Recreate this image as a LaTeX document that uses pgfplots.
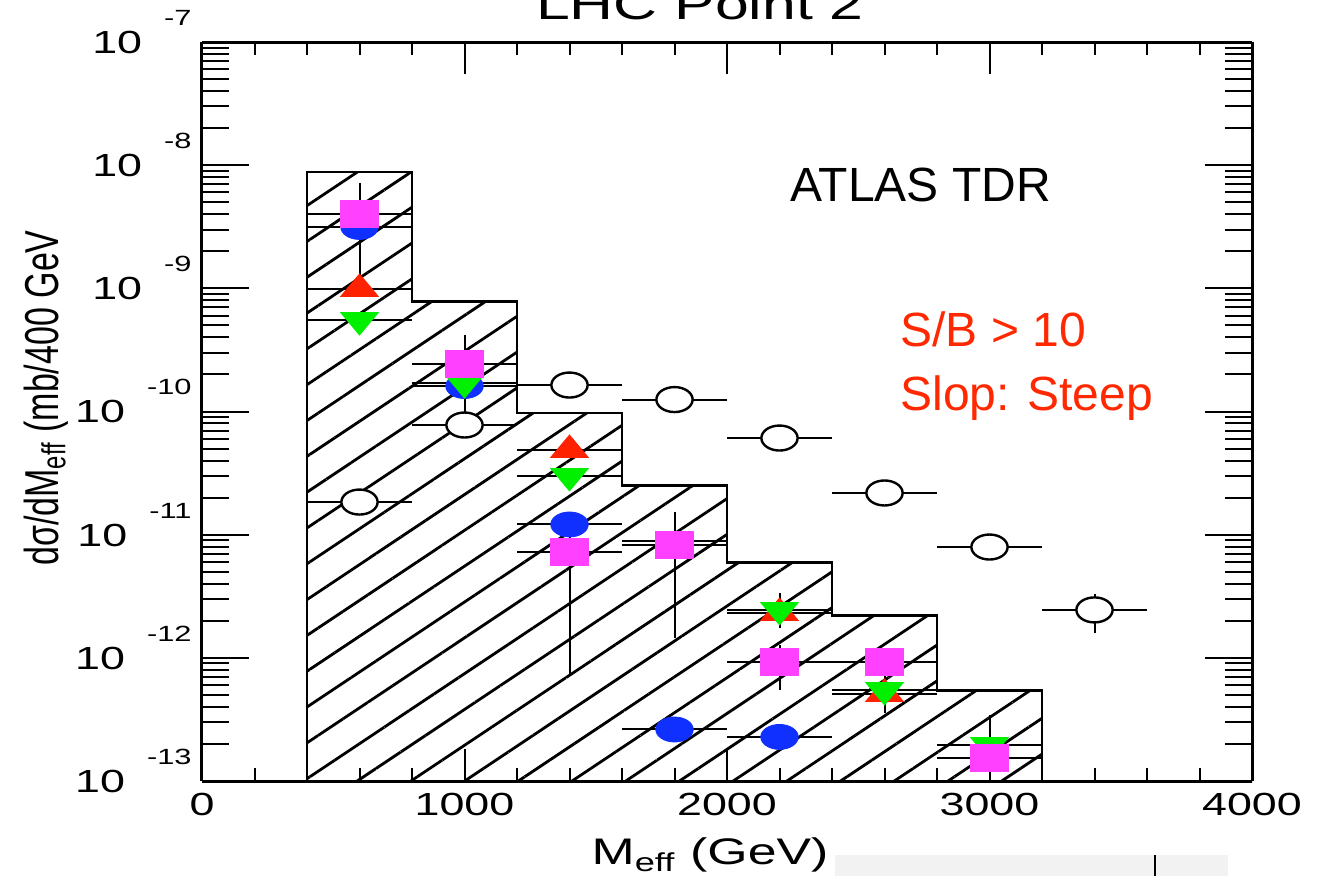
\documentclass[border=0pt]{standalone}
\usepackage{pgfplots}
\pgfplotsset{compat=1.18}
\usepackage{pgfplotstable}
\usepackage{graphicx}
\usepackage{fontspec}
\setmainfont{Liberation Sans}
\usetikzlibrary{patterns.meta}
\definecolor{mymag}{RGB}{255,64,255}
\definecolor{myblue}{RGB}{16,48,255}
\definecolor{myred}{RGB}{255,34,0}
\definecolor{mygreen}{RGB}{0,240,0}
\definecolor{txtred}{RGB}{255,40,0}

\pgfplotstableread{
x y ex eyp eym
600 4.05e-9 200 3.1e-9 3.05e-9
1000 2.43e-10 200 1.75e-10 1.72e-10
1400 7.24e-12 200 7.7e-12 6.5e-12
1800 8.24e-12 200 7.1e-12 6.8e-12
2200 9.25e-13 200 3.5e-13 3.8e-13
2600 9.25e-13 200 2.0e-13 2.0e-13
3000 1.55e-13 200 1.9e-13 1.5e-13
}\magdata
\pgfplotstableread{
x y ex eyp eym
600 3.15e-9 200 0 0
1000 1.61e-10 200 0 0
1400 1.21e-11 200 0 0
1800 2.62e-13 200 0.4e-13 0.4e-13
2200 2.28e-13 200 0 0
}\bluedata
\pgfplotstableread{
x y ex eyp eym
600 9.88e-10 200 0 0
1400 4.87e-11 200 0 0
2200 2.31e-12 200 0 0
2600 5.09e-13 200 0 0
}\reddata
\pgfplotstableread{
x y ex eyp eym
600 5.53e-10 200 0 0
1000 1.70e-10 200 0 0
1400 3.00e-11 200 0 0
1800 8.89e-12 200 0 0
2200 2.45e-12 200 0.9e-12 0.7e-12
2600 5.48e-13 200 1.9e-13 1.9e-13
3000 1.96e-13 200 0 0
}\greendata
\pgfplotstableread{
x y ex eyp eym
600 1.84e-11 200 0 0
1000 7.77e-11 200 0 0
1400 1.64e-10 200 0 0
1800 1.25e-10 200 0 0
2200 6.09e-11 200 0 0
2600 2.18e-11 200 0 0
3000 7.94e-12 200 0 0
3400 2.45e-12 200 0.86e-12 0.86e-12
}\opendata

\newcommand{\ylab}[1]{\scalebox{1.4}[1]{\fontsize{16}{16}\selectfont 10\hspace{7.9pt}\raisebox{14pt}{\fontsize{11}{11}\selectfont #1}}}
\newcommand{\xl}[1]{\scalebox{1.4}[1]{#1}}

\begin{document}
\begin{tikzpicture}
\useasboundingbox (0,0) rectangle (662pt,438pt);
\fill[black!5] (417.5pt,0) rectangle (614pt,10.5pt);
\draw[line width=1pt] (577.5pt,0) -- (577.5pt,10.5pt);

\begin{axis}[
  at={(101pt,47.5pt)}, anchor=south west, scale only axis,
  width=525pt, height=369.5pt,
  xmin=0, xmax=4000, ymode=log, ymin=1e-13, ymax=1e-7,
  axis line style={line width=1.5pt, black},
  tick align=inside,
  tick style={black, line width=1pt},
  hide y axis,
  xtick pos=both,
  xtick={0,1000,2000,3000,4000},
  xticklabels={\xl{0},\xl{1000},\xl{2000},\xl{3000},\xl{4000}},
  minor x tick num=4,
  major tick length=16pt, minor tick length=6.5pt,
  xticklabel style={font=\fontsize{16}{16}\selectfont, inner sep=0pt, anchor=north, yshift=-6pt},
]
% blue circles
\addplot[only marks, mark=none, error bars/x dir=both, error bars/x explicit, error bars/y dir=both, error bars/y explicit, error bars/error mark=none, error bars/error bar style={black, line width=1pt}]
  table[x=x,y=y,x error=ex,y error plus=eyp,y error minus=eym] {\bluedata};
\addplot[only marks, mark=*, mark size=6.25pt, mark options={xscale=1.5, fill=myblue, draw=myblue}] table[x=x,y=y] {\bluedata};
% red up triangles
\addplot[only marks, mark=none, error bars/x dir=both, error bars/x explicit, error bars/y dir=both, error bars/y explicit, error bars/error mark=none, error bars/error bar style={black, line width=1pt}]
  table[x=x,y=y,x error=ex,y error plus=eyp,y error minus=eym] {\reddata};
\addplot[only marks, mark=triangle*, mark size=7.5pt, mark options={xscale=1.45, fill=myred, draw=myred}] table[x=x,y=y] {\reddata};
% green down triangles
\addplot[only marks, mark=none, error bars/x dir=both, error bars/x explicit, error bars/y dir=both, error bars/y explicit, error bars/error mark=none, error bars/error bar style={black, line width=1pt}]
  table[x=x,y=y,x error=ex,y error plus=eyp,y error minus=eym] {\greendata};
\addplot[only marks, mark=triangle*, mark size=7.5pt, mark options={rotate=180, xscale=1.45, fill=mygreen, draw=mygreen}] table[x=x,y=y] {\greendata};
% magenta squares
\addplot[only marks, mark=none, error bars/x dir=both, error bars/x explicit, error bars/y dir=both, error bars/y explicit, error bars/error mark=none, error bars/error bar style={black, line width=1pt}]
  table[x=x,y=y,x error=ex,y error plus=eyp,y error minus=eym] {\magdata};
\addplot[only marks, mark=square*, mark size=6.75pt, mark options={xscale=1.4, fill=mymag, draw=mymag}] table[x=x,y=y] {\magdata};
% hatched histogram
\addplot[const plot, mark=none, black, line width=1.3pt,
  pattern={Lines[angle=33.7, distance=14.9pt, line width=1.4pt]}, pattern color=black]
  coordinates {(400,1e-13) (400,8.80e-9) (800,7.79e-10) (1200,9.76e-11) (1600,2.507e-11)
  (2000,5.94e-12) (2400,2.20e-12) (2800,5.41e-13) (3200,1e-13) (3600,1e-13)} -- cycle;
% open circles
\addplot[only marks, mark=none, error bars/x dir=both, error bars/x explicit, error bars/y dir=both, error bars/y explicit, error bars/error mark=none, error bars/error bar style={black, line width=1pt}]
  table[x=x,y=y,x error=ex,y error plus=eyp,y error minus=eym] {\opendata};
\addplot[only marks, mark=*, mark size=6.25pt, mark options={xscale=1.45, fill=white, draw=black, line width=1.2pt}] table[x=x,y=y] {\opendata};
\end{axis}

\begin{axis}[
  at={(101pt,47.5pt)}, anchor=south west, scale only axis,
  width=525pt, height=369.5pt,
  xmin=0, xmax=4000, ymode=log, ymin=1e-13, ymax=1e-7,
  axis line style={line width=1.5pt, black},
  tick align=inside,
  tick style={black, line width=1pt},
  hide x axis,
  ytick pos=both,
  ytick={1e-13,1e-12,1e-11,1e-10,1e-9,1e-8,1e-7},
  yticklabels={\ylab{-13},\ylab{-12},\ylab{-11},\ylab{-10},\ylab{-9},\ylab{-8},\ylab{-7}},
  minor ytick={2e-13,3e-13,4e-13,5e-13,6e-13,7e-13,8e-13,9e-13,
               2e-12,3e-12,4e-12,5e-12,6e-12,7e-12,8e-12,9e-12,
               2e-11,3e-11,4e-11,5e-11,6e-11,7e-11,8e-11,9e-11,
               2e-10,3e-10,4e-10,5e-10,6e-10,7e-10,8e-10,9e-10,
               2e-9,3e-9,4e-9,5e-9,6e-9,7e-9,8e-9,9e-9,
               2e-8,3e-8,4e-8,5e-8,6e-8,7e-8,8e-8,9e-8},
  major tick length=23.5pt, minor tick length=13.5pt,
  yticklabel style={anchor=base east, inner sep=0pt, xshift=-5pt, yshift=-5.7pt},
]
\addplot[draw=none, mark=none] coordinates {(1000,1e-10) (2000,1e-11)};
\end{axis}

\node[anchor=base, inner sep=0pt, font=\fontsize{21.7}{21.7}\selectfont] at (350pt,428pt) {\scalebox{1.4}[1]{LHC Point 2}};
\node[anchor=base west, inner sep=0pt, font=\fontsize{24}{24}\selectfont] at (395pt,337pt) {ATLAS TDR};
\node[anchor=base west, inner sep=0pt, text=txtred, font=\fontsize{24}{24}\selectfont] at (450pt,264.5pt) {S/B > 10};
\node[anchor=base west, inner sep=0pt, text=txtred, font=\fontsize{24}{24}\selectfont] at (450pt,232.5pt) {Slop: Steep};
\node[anchor=base, inner sep=0pt, font=\fontsize{18.5}{18.5}\selectfont] at (355pt,5.5pt) {\scalebox{1.4}[1]{M\textsubscript{eff} (GeV)}};
\node[rotate=90, anchor=base, inner sep=0pt, font=\fontsize{17}{17}\selectfont] at (29pt,239pt) {\scalebox{1}[1.4]{dσ/dM\textsubscript{eff} (mb/400 GeV}};
\end{tikzpicture}
\end{document}
